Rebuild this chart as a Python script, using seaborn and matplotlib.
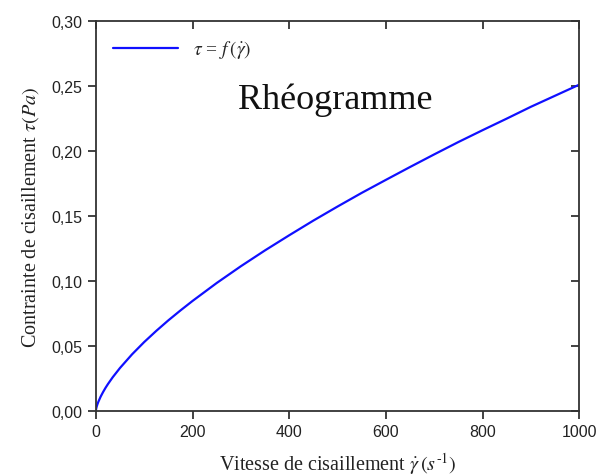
import matplotlib
matplotlib.use("Agg")
import matplotlib.pyplot as plt
from matplotlib.ticker import FuncFormatter, MultipleLocator
import seaborn as sns
import pandas as pd

# Data (shear rate vs shear stress)
shear_rate = [0, 0.5, 1, 2, 3, 5, 10, 15, 20, 25, 35, 50, 75, 100, 125, 150, 175, 200,
              250, 300, 350, 400, 450, 500, 550, 600, 650, 700, 750, 800, 850, 900, 950, 1000]
shear_stress = [0.0, 0.0015, 0.0024, 0.0038, 0.0050, 0.0070, 0.0112, 0.0147, 0.0179, 0.0208,
                0.0261, 0.0332, 0.0437, 0.0531, 0.0617, 0.0698, 0.0774, 0.0847,
                0.0985, 0.1114, 0.1236, 0.1352, 0.1465, 0.1573, 0.1678, 0.1778, 0.1877,
                0.1974, 0.2069, 0.2160, 0.2249, 0.2340, 0.2425, 0.2510]
series_label = r"$\tau$ = $f\,\left(\dot{\gamma}\right)$"
title_text = "Rhéogramme"
xlabel_text = r"Vitesse de cisaillement $\dot{\gamma}\,(s^{\text{-}1})$"
ylabel_text = r"Contrainte de cisaillement $\tau(Pa)$"

df = pd.DataFrame({"x": shear_rate, "y": shear_stress})

sns.set_style("ticks")
plt.rcParams["mathtext.fontset"] = "stix"
plt.rcParams["font.family"] = ["Liberation Sans", "DejaVu Sans"]

fig = plt.figure(figsize=(5.99, 4.77), dpi=100)
ax = fig.add_axes([0.160, 0.136, 0.807, 0.818])

sns.lineplot(data=df, x="x", y="y", ax=ax, color="#1010ff", linewidth=1.6,
             label=series_label, sort=True)

ax.set_xlim(0, 1000)
ax.set_ylim(0, 0.30)
ax.xaxis.set_major_locator(MultipleLocator(200))
ax.yaxis.set_major_locator(MultipleLocator(0.05))
ax.yaxis.set_major_formatter(FuncFormatter(lambda v, p: f"{v:.2f}".replace(".", ",")))
ax.xaxis.set_major_formatter(FuncFormatter(lambda v, p: f"{v:.0f}"))

for s in ax.spines.values():
    s.set_visible(True)
    s.set_color("#333333")
    s.set_linewidth(1.3)

ax.tick_params(axis="both", which="major", direction="out", length=6, width=1.3,
               color="#333333", labelsize=11.5, labelcolor="#222222")
ax.tick_params(axis="x", top=True, labeltop=False)
ax.tick_params(axis="y", right=True, labelright=False)
# top/right ticks point inward
for t in ax.xaxis.get_major_ticks():
    t.tick2line.set_marker(3)
for t in ax.yaxis.get_major_ticks():
    t.tick2line.set_marker(0)

serif = ["Liberation Serif", "DejaVu Serif"]
ax.set_xlabel(xlabel_text, family=serif, fontsize=14.5, labelpad=8, color="#222222")
ax.set_ylabel(ylabel_text, family=serif, fontsize=14.5, labelpad=8, color="#222222")

ax.text(0.495, 0.80, title_text, transform=ax.transAxes, ha="center", va="center",
        family=serif, fontsize=26, color="#111111")

leg = ax.legend(loc="upper left", frameon=False, handlelength=3.3, borderaxespad=0.5,
                prop={"family": serif, "size": 14})

fig.savefig("out.png", dpi=100, facecolor="white")
